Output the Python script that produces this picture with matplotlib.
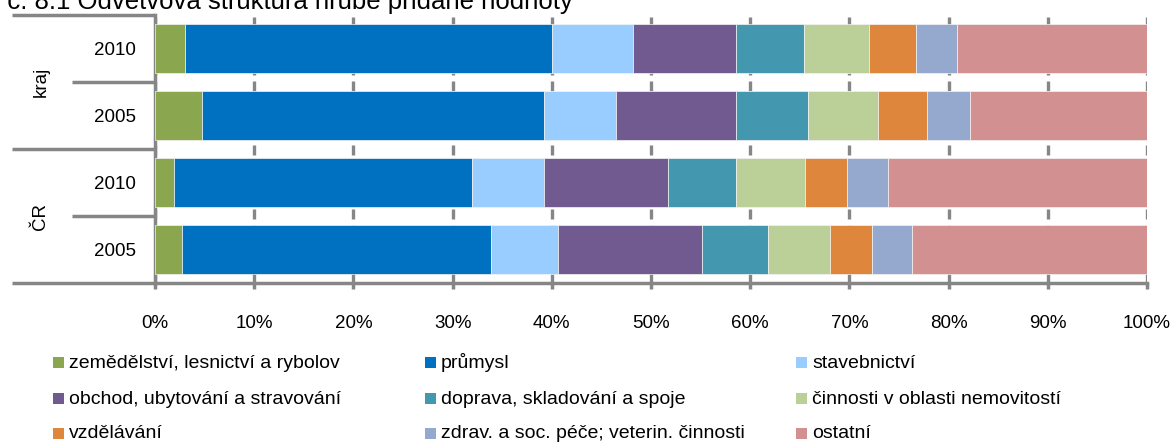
import matplotlib
matplotlib.use("Agg")
import matplotlib.pyplot as plt
from matplotlib.patches import Rectangle
import numpy as np

plt.rcParams['font.family'] = ['Liberation Sans', 'DejaVu Sans']

# ---- data ----
groups = ["kraj", "ČR"]
years = ["2010", "2005"]
row_labels = ["2010", "2005", "2010", "2005"]   # top to bottom: kraj 2010, kraj 2005, ČR 2010, ČR 2005
sectors = [
    "zemědělství, lesnictví a rybolov",
    "průmysl",
    "stavebnictví",
    "obchod, ubytování a stravování",
    "doprava, skladování a spoje",
    "činnosti v oblasti nemovitostí",
    "vzdělávání",
    "zdrav. a soc. péče; veterin. činnosti",
    "ostatní",
]
zemedelstvi = [3.0, 4.7, 1.9, 2.7]
prumysl = [37.0, 34.5, 30.1, 31.2]
stavebnictvi = [8.2, 7.3, 7.2, 6.7]
obchod = [10.4, 12.1, 12.5, 14.5]
doprava = [6.8, 7.2, 6.9, 6.7]
nemovitosti = [6.6, 7.1, 6.9, 6.2]
vzdelavani = [4.7, 4.9, 4.3, 4.3]
zdravotnictvi = [4.1, 4.4, 4.1, 4.0]
ostatni = [19.2, 17.8, 26.1, 23.7]
series = [zemedelstvi, prumysl, stavebnictvi, obchod, doprava,
          nemovitosti, vzdelavani, zdravotnictvi, ostatni]
colors = ["#8AA64E", "#0070C0", "#99CCFF", "#705A8F", "#4398AF",
          "#BBCF98", "#DD863C", "#95A9CF", "#D29090"]

W, H = 1174, 443
fig = plt.figure(figsize=(W / 100, H / 100), dpi=100)
x0, x1 = 155, 1147
ytop, ybot = 15, 283
ax = fig.add_axes([x0 / W, 1 - ybot / H, (x1 - x0) / W, (ybot - ytop) / H])

gray = "#868686"
ypos = np.arange(len(row_labels))[::-1]
left = np.zeros(len(row_labels))
for vals, col, name in zip(series, colors, sectors):
    v = np.array(vals)
    ax.barh(ypos, v, left=left, height=0.73, color=col,
            edgecolor="#f4f4f4", linewidth=0.5, zorder=3, label=name)
    left += v

ax.set_xlim(0, 100)
ax.set_ylim(-0.5, len(row_labels) - 0.5)
ax.set_xticks(np.arange(0, 101, 10))
ax.set_xticklabels([f"{t}%" for t in range(0, 101, 10)], fontsize=13.5)
ax.set_yticks(ypos)
ax.set_yticklabels(row_labels, fontsize=13.5)
ax.tick_params(axis="y", length=0, pad=14)
ax.tick_params(axis="x", length=4, width=2.5, color=gray, pad=19, direction="out")

ax.xaxis.grid(True, color=gray, linewidth=2.4, linestyle=(0, (3, 1.8)), zorder=0)
ax.set_axisbelow(True)
for s in ["top", "right"]:
    ax.spines[s].set_visible(False)
for s in ["left", "bottom"]:
    ax.spines[s].set_color(gray)
    ax.spines[s].set_linewidth(2.5)

# group separators on the category axis
trans = ax.get_yaxis_transform()
long_x = (12 - x0) / (x1 - x0)
short_x = (72 - x0) / (x1 - x0)
for yb, xs in [(3.5, long_x), (2.5, short_x), (1.5, long_x), (0.5, short_x), (-0.5, long_x)]:
    ax.plot([xs, 0], [yb, yb], transform=trans, color=gray, lw=2.5,
            clip_on=False, solid_capstyle="butt")

# group labels
for g, yc in zip(groups, [2.5, 0.5]):
    ax.text((41 - x0) / (x1 - x0), yc, g, transform=trans, rotation=90,
            ha="center", va="center", fontsize=13.5)

# title (cut off at the top of the image)
fig.text(573 / W, 1 - 9 / H, "Graf č. 8.1 Odvětvová struktura hrubé přidané hodnoty",
         ha="right", va="baseline", fontsize=18.5)

# legend: three columns, row-major order, fixed row positions
col_x = [53, 425, 796]
row_y = [362, 398, 433]
box = 11
for i, (name, col) in enumerate(zip(sectors, colors)):
    r, c = divmod(i, 3)
    xp, yp = col_x[c], row_y[r]
    fig.patches.append(Rectangle((xp / W, (H - yp - box / 2) / H), box / W, box / H,
                                 transform=fig.transFigure, facecolor=col,
                                 edgecolor="none", figure=fig))
    fig.text((xp + box + 5) / W, 1 - (yp + 5.5) / H, name, ha="left",
             va="baseline", fontsize=14)

fig.savefig("out.png", dpi=100)
